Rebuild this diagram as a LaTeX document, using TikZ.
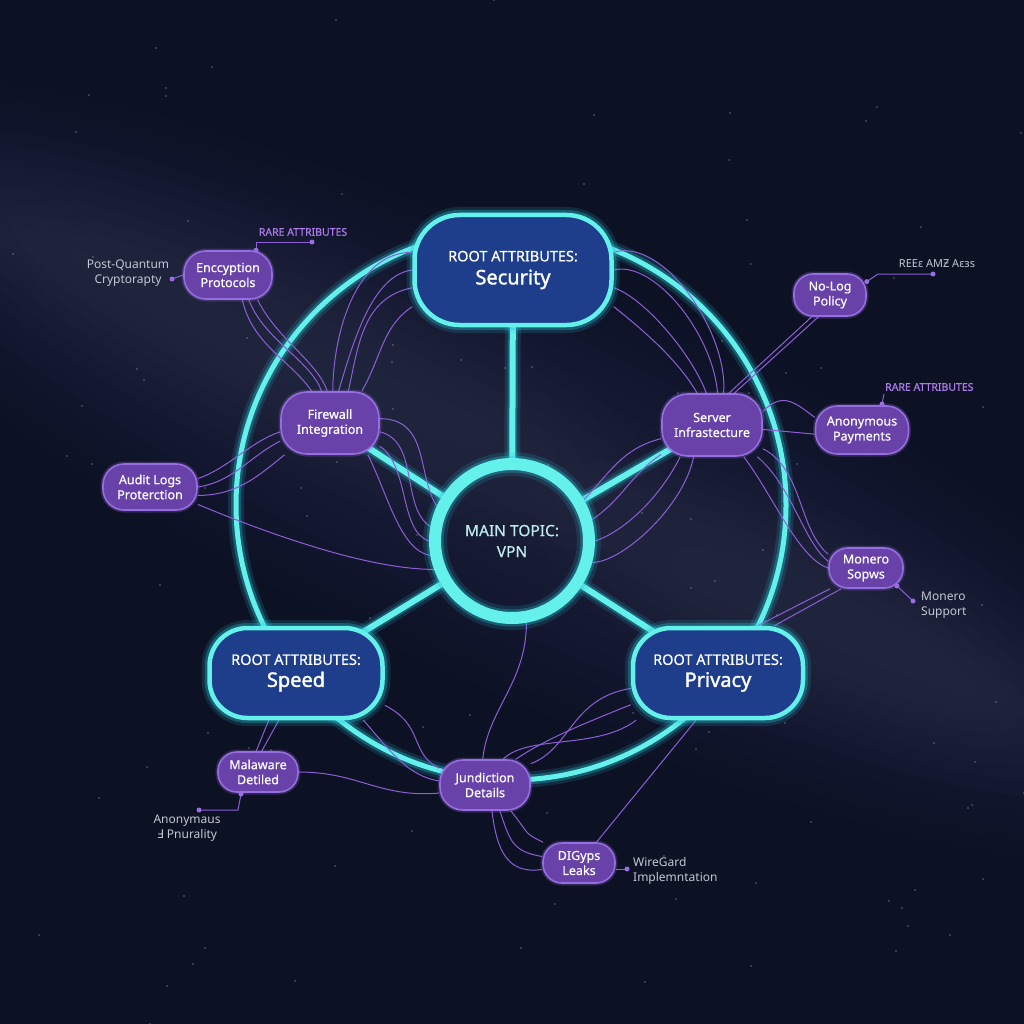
\documentclass[tikz,border=0pt]{standalone}
\usepackage{fontspec}
\setmainfont{Noto Sans}
\newfontfamily\dvs{DejaVu Sans}
\newfontfamily\heavyf{Noto Sans}[FakeBold=1.6]
\newfontfamily\medf{Noto Sans}[FakeBold=0.5]
\pgfdeclarelayer{bglayer}
\pgfdeclarelayer{linelayer}
\pgfsetlayers{bglayer,linelayer,main}
\definecolor{bgc}{RGB}{13,17,36}
\definecolor{nebc}{RGB}{80,95,130}
\definecolor{cyanc}{RGB}{100,240,235}
\definecolor{glowc}{RGB}{40,200,220}
\definecolor{rootfill}{RGB}{30,62,140}
\definecolor{pfill}{RGB}{104,66,168}
\definecolor{pborder}{RGB}{150,110,225}
\definecolor{pline}{RGB}{140,95,215}
\definecolor{labc}{RGB}{195,200,212}
\definecolor{rarec}{RGB}{175,125,235}
\definecolor{maintext}{RGB}{190,235,240}
\tikzset{
 pnode/.style={draw=pborder, line width=1.6pt, fill=pfill, rounded corners=19pt, align=center, text=white,
   font=\medf\fontsize{12.5}{15}\selectfont, inner sep=0pt, preaction={draw=pborder, line width=5pt, opacity=0.25}},
 rootnode/.style={draw=cyanc, line width=4.5pt, fill=rootfill, rounded corners=38pt, align=center, text=white,
   font=\medf\fontsize{14.5}{16}\selectfont, inner sep=0pt,
   preaction={draw=glowc,line width=16pt,opacity=0.15}, preaction={draw=glowc,line width=10pt,opacity=0.3}},
 glowline/.style={draw=cyanc, line width=6pt, preaction={draw=glowc,line width=16pt,opacity=0.15},
   preaction={draw=glowc,line width=10pt,opacity=0.3}},
 pl/.style={draw=pline, line width=1pt},
 lab/.style={text=labc, align=center, font=\fontsize{12}{14.5}\selectfont, inner sep=0pt},
 rare/.style={text=rarec, font=\medf\fontsize{10.5}{12}\selectfont, inner sep=0pt},
 dotc/.style={fill=pborder, circle, inner sep=0pt, minimum size=5pt},
}
\begin{document}
\begin{tikzpicture}[x=1pt,y=-1pt]
\useasboundingbox (0,0) rectangle (1024,1024);
\begin{pgfonlayer}{bglayer}
\fill[bgc] (0,0) rectangle (1024,1024);
\begin{scope}[rotate around={-25:(512,470)}]
\foreach \k in {0,...,11}{
  \fill[nebc,opacity=0.022] (512,470) ellipse [x radius={820-25*\k}, y radius={210-16*\k}];
}
\foreach \k in {0,...,6}{
  \fill[nebc,opacity=0.02] (250,450) ellipse [x radius={420-30*\k}, y radius={120-14*\k}];
  \fill[nebc,opacity=0.02] (860,480) ellipse [x radius={320-25*\k}, y radius={110-12*\k}];
}
\end{scope}
\pgfmathsetseed{11}
\foreach \i in {1,...,110}{
  \pgfmathsetmacro{\sx}{random(0,1024)}
  \pgfmathsetmacro{\sy}{random(0,1024)}
  \fill[white,opacity=0.35] (\sx,\sy) circle[radius=0.8];
}
\end{pgfonlayer}

% main nodes
\node[circle, minimum size=154pt, inner sep=0pt, draw=cyanc, line width=12pt,
  preaction={draw=glowc,line width=24pt,opacity=0.15}, preaction={draw=glowc,line width=17pt,opacity=0.3},
  align=center, text=maintext, font=\medf\fontsize{15.5}{21}\selectfont] (main) at (512,541) {MAIN TOPIC:\\VPN};
\node[rootnode, rounded corners=45pt, minimum width=197pt, minimum height=110pt] (sec) at (513,270)
  {ROOT ATTRIBUTES:\\[7pt]{\heavyf\fontsize{20}{24}\selectfont Security}};
\node[rootnode, minimum width=173pt, minimum height=90pt] (spd) at (296,673)
  {ROOT ATTRIBUTES:\\[6pt]{\heavyf\fontsize{20}{24}\selectfont Speed}};
\node[rootnode, minimum width=170pt, minimum height=90pt] (prv) at (718,673)
  {ROOT ATTRIBUTES:\\[6pt]{\heavyf\fontsize{20}{24}\selectfont Privacy}};

% purple nodes
\node[pnode, minimum width=88pt, minimum height=48pt, rounded corners=22pt] (enc) at (228,275) {Enccyption\\Protocols};
\node[pnode, minimum width=98pt, minimum height=62pt, rounded corners=26pt] (fw) at (330,423) {Firewall\\Integration};
\node[pnode, minimum width=94pt, minimum height=46pt, rounded corners=21pt] (aud) at (150,487) {Audit Logs\\Proterction};
\node[pnode, minimum width=72pt, minimum height=42pt] (nolog) at (830,295) {No-Log\\Policy};
\node[pnode, minimum width=100pt, minimum height=62pt, rounded corners=26pt] (srv) at (712,425) {Server\\Infrastecture};
\node[pnode, minimum width=93pt, minimum height=48pt, rounded corners=22pt] (pay) at (862,430) {Anonymous\\Payments};
\node[pnode, minimum width=74pt, minimum height=40pt] (mon) at (866,568) {Monero\\Sopws};
\node[pnode, minimum width=80pt, minimum height=40pt] (mal) at (258,772) {Malaware\\Detiled};
\node[pnode, minimum width=90pt, minimum height=50pt, rounded corners=23pt] (jur) at (485,785) {Jundiction\\Details};
\node[pnode, minimum width=72pt, minimum height=40pt] (dig) at (579,863) {DIGyps\\Leaks};

% labels
\node[lab] (pq) at (128,273) {Post-Quantum\\Cryptorapty};
\node[rare] (rare1) at (303,232) {RARE ATTRIBUTES};
\node[lab, font=\fontsize{11}{13}\selectfont] (reec) at (937,264) {REEε AMƵ Aεзs};
\node[rare, anchor=west] (rare2) at (885,387) {RARE ATTRIBUTES};
\node[lab, anchor=west, align=left] (msup) at (921,605) {Monero\\Support};
\node[lab] (anon) at (187,828) {Anonymaus\\{\dvs Ⅎ} Pnurality};
\node[lab, anchor=west, align=left] (wg) at (633,871) {WireGard\\Implemntation};

% label connector coordinates
\coordinate (pqd) at (172,279);
\coordinate (r1a) at ([xshift=28pt]enc.north);
\coordinate (r1d) at (312,242);
\coordinate (nl0) at (nolog.20);
\coordinate (nl1) at (878,274);
\coordinate (nld) at (933,274);
\coordinate (pya) at (882,404);
\coordinate (pyb) at (884,394);
\coordinate (mna) at (897,586);
\coordinate (mnd) at (913,601);
\coordinate (mla) at (241,794);
\coordinate (mlb) at (238,810);
\coordinate (mld) at (199,810);
\coordinate (dga) at (616,869);
\coordinate (dgd) at (627,869);

\begin{pgfonlayer}{linelayer}
% ring and spokes
\draw[glowline, line width=5pt] (511,505) circle[radius=275];
\draw[glowline] (main) -- (sec.center);
\draw[glowline] (main) -- (fw.center);
\draw[glowline] (main) -- (srv.center);
\draw[glowline] (main) -- (spd.center);
\draw[glowline] (main) -- (prv.center);

% enc -> fw
\draw[pl] (enc.-50) .. controls +(15,40) and +(-10,-30) .. (fw.105);
\draw[pl] (enc.-40) .. controls +(20,40) and +(-10,-30) .. (fw.95);
\draw[pl] (enc.-60) .. controls +(10,45) and +(-20,-30) .. (fw.120);
% sec -> fw
\draw[pl] (sec.west) .. controls +(-40,5) and +(15,-50) .. (fw.75);
\draw[pl] (sec.190) .. controls +(-50,10) and +(10,-45) .. (fw.60);
\draw[pl] (sec.200) .. controls +(-30,20) and +(20,-35) .. (fw.45);
\draw[pl] (sec.170) .. controls +(-60,0) and +(0,-50) .. (fw.85);
% fw -> main
\draw[pl] (fw.-10) .. controls +(40,10) and +(-30,-20) .. (main.170);
\draw[pl] (fw.-25) .. controls +(30,20) and +(-30,-10) .. (main.180);
\draw[pl] (fw.-40) .. controls +(20,40) and +(-30,-5) .. (main.190);
\draw[pl] (fw.5) .. controls +(50,0) and +(-20,-30) .. (main.155);
% aud -> fw
\draw[pl] (aud.10) .. controls +(30,-10) and +(-30,10) .. (fw.190);
\draw[pl] (aud.0) .. controls +(35,-5) and +(-30,15) .. (fw.200);
\draw[pl] (aud.-10) .. controls +(40,0) and +(-25,20) .. (fw.215);
\draw[pl] (aud.-20) .. controls +(60,25) and +(-70,0) .. (main.200);
% sec -> srv
\draw[pl] (sec.east) .. controls +(40,-10) and +(-5,-60) .. (srv.80);
\draw[pl] (sec.10) .. controls +(50,-15) and +(5,-60) .. (srv.70);
\draw[pl] (sec.-10) .. controls +(30,10) and +(-15,-40) .. (srv.100);
\draw[pl] (sec.-20) .. controls +(25,20) and +(-20,-35) .. (srv.115);
% srv -> nolog
\draw[pl] (srv.62) -- (nolog.-130);
\draw[pl] (srv.55) -- (nolog.-118);
% srv -> pay
\draw[pl] (srv.15) .. controls +(20,-20) and +(-20,-15) .. (pay.165);
\draw[pl] (srv.-5) -- (pay.-175);
% srv -> mon
\draw[pl] (srv.-25) .. controls +(40,20) and +(-30,-25) .. (mon.160);
\draw[pl] (srv.-35) .. controls +(35,30) and +(-25,-20) .. (mon.170);
\draw[pl] (srv.-45) .. controls +(30,40) and +(-30,-10) .. (mon.180);
% prv -> mon
\draw[pl] (prv.50) -- (mon.-150);
\draw[pl] (prv.40) -- (mon.-140);
% srv -> main
\draw[pl] (srv.-150) .. controls +(-30,20) and +(30,-20) .. (main.15);
\draw[pl] (srv.-135) .. controls +(-20,40) and +(30,-10) .. (main.0);
\draw[pl] (srv.-120) .. controls +(-10,50) and +(30,0) .. (main.-15);
\draw[pl] (srv.-165) .. controls +(-40,10) and +(25,-25) .. (main.30);
% spd -> jur
\draw[pl] (spd.-20) .. controls +(40,20) and +(-30,-15) .. (jur.160);
\draw[pl] (spd.-35) .. controls +(30,35) and +(-30,-5) .. (jur.175);
% prv -> jur
\draw[pl] (prv.-160) .. controls +(-50,20) and +(30,-20) .. (jur.40);
\draw[pl] (prv.-150) .. controls +(-40,30) and +(25,-25) .. (jur.55);
\draw[pl] (prv.-170) .. controls +(-60,10) and +(40,-15) .. (jur.25);
% main -> jur
\draw[pl] (main.-80) .. controls +(0,60) and +(5,-50) .. (jur.95);
% jur -> dig
\draw[pl] (jur.-60) .. controls +(10,30) and +(-30,-5) .. (dig.170);
\draw[pl] (jur.-75) .. controls +(5,40) and +(-35,5) .. (dig.190);
\draw[pl] (jur.-45) .. controls +(20,25) and +(-20,-10) .. (dig.150);
% prv -> dig
\draw[pl] (prv.-115) -- (dig.50);
% mal -> spd, jur
\draw[pl] (mal.95) -- (spd.-120);
\draw[pl] (mal.80) -- (spd.-110);
\draw[pl] (mal.east) .. controls +(60,0) and +(-60,5) .. (jur.190);

% label connectors
\draw[pl] (enc.west) -- (pqd);
\draw[pl] (r1a) |- (r1d);
\draw[pl] (nl0) -- (nl1) -- (nld);
\draw[pl] (pya) -- (pyb);
\draw[pl] (mna) -- (mnd);
\draw[pl] (mla) -- (mlb) -- (mld);
\draw[pl] (dga) -- (dgd);
\end{pgfonlayer}
\foreach \d in {pqd,r1a,r1d,nl0,nld,pya,mna,mnd,mla,mld,dgd}{
  \node[dotc] at (\d) {};
}
\end{tikzpicture}
\end{document}
